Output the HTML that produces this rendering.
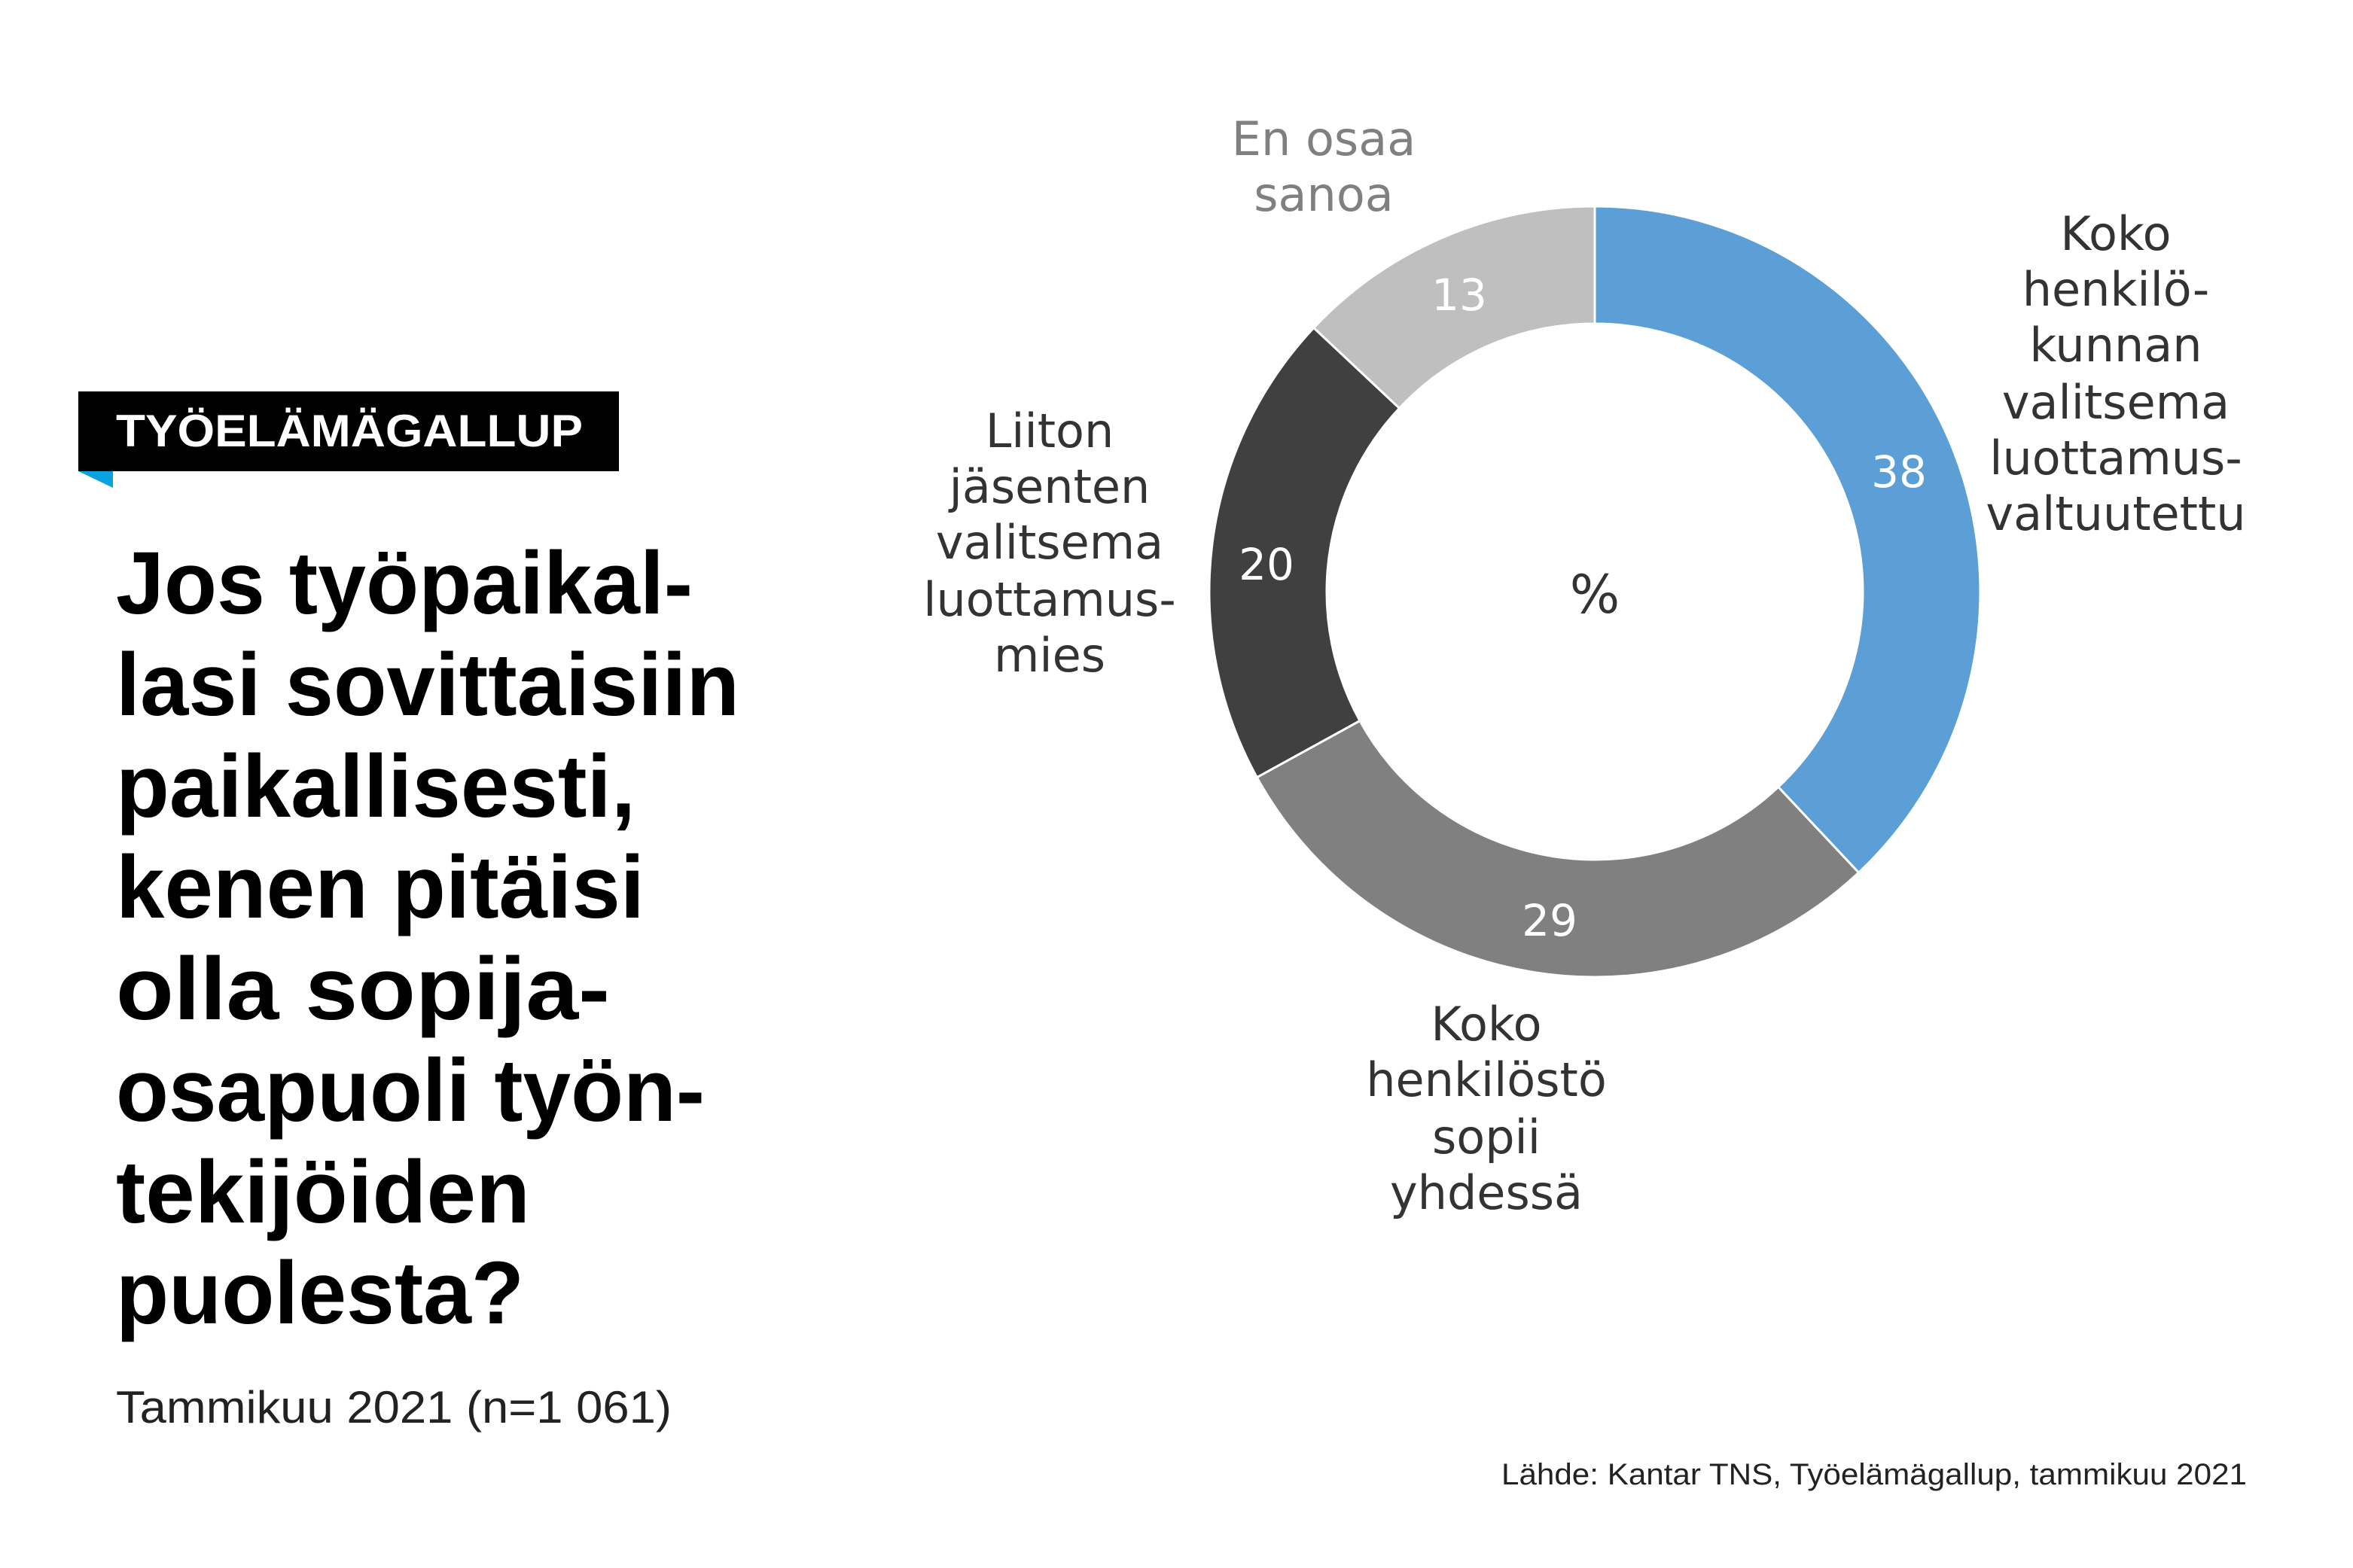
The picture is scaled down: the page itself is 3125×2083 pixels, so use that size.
<!DOCTYPE html>
<html><head><meta charset="utf-8"><style>html,body{margin:0;padding:0;background:#fff}svg{display:block}</style></head><body>
<svg width="3125" height="2083" viewBox="0 0 3125 2083" xmlns="http://www.w3.org/2000/svg">
<rect width="3125" height="2083" fill="#fff"/>
<rect x="104" y="520" width="718" height="106" fill="#000"/>
<polygon points="104,626 150,626 150,648" fill="#0aa3e0"/>
<text x="154" y="593" font-family="Liberation Sans, sans-serif" font-weight="bold" font-size="60" fill="#fff" textLength="620" lengthAdjust="spacingAndGlyphs">TYÖELÄMÄGALLUP</text>
<g font-family="Liberation Sans, sans-serif" font-weight="bold" font-size="118" fill="#000">
<text x="154" y="815" textLength="766" lengthAdjust="spacingAndGlyphs">Jos työpaikal-</text>
<text x="154" y="950" textLength="828" lengthAdjust="spacingAndGlyphs">lasi sovittaisiin</text>
<text x="154" y="1085" textLength="690" lengthAdjust="spacingAndGlyphs">paikallisesti,</text>
<text x="154" y="1219" textLength="702" lengthAdjust="spacingAndGlyphs">kenen pitäisi</text>
<text x="154" y="1354" textLength="656" lengthAdjust="spacingAndGlyphs">olla sopija-</text>
<text x="154" y="1489" textLength="782" lengthAdjust="spacingAndGlyphs">osapuoli työn-</text>
<text x="154" y="1624" textLength="550" lengthAdjust="spacingAndGlyphs">tekijöiden</text>
<text x="154" y="1758" textLength="542" lengthAdjust="spacingAndGlyphs">puolesta?</text>
</g>
<text x="154" y="1890" font-family="Liberation Sans, sans-serif" font-size="60" fill="#222" textLength="738" lengthAdjust="spacingAndGlyphs">Tammikuu 2021 (n=1 061)</text>
<text x="2984" y="1972" text-anchor="end" font-family="Liberation Sans, sans-serif" font-size="40" fill="#222" textLength="990" lengthAdjust="spacingAndGlyphs">Lähde: Kantar TNS, Työelämägallup, tammikuu 2021</text>
<g stroke="#fff" stroke-width="3">
<path d="M2118,274 A512,512 0 0 1 2468.5,1159.2 L2361.7,1045.5 A356,356 0 0 0 2118,430 Z" fill="#5b9fd6"/>
<path d="M2468.5,1159.2 A512,512 0 0 1 1669.3,1032.7 L1806,957.5 A356,356 0 0 0 2361.7,1045.5 Z" fill="#808080"/>
<path d="M1669.3,1032.7 A512,512 0 0 1 1744.8,435.5 L1858.5,542.3 A356,356 0 0 0 1806,957.5 Z" fill="#404040"/>
<path d="M1744.8,435.5 A512,512 0 0 1 2118,274 L2118,430 A356,356 0 0 0 1858.5,542.3 Z" fill="#bfbfbf"/>
</g>
<g font-family="DejaVu Sans, sans-serif" font-size="62" text-anchor="middle">
<text x="2522" y="647" fill="#fff" font-size="58">38</text>
<text x="2058" y="1243" fill="#fff" font-size="58">29</text>
<text x="1682" y="770" fill="#fff" font-size="58">20</text>
<text x="1938" y="412" fill="#fff" font-size="58">13</text>
<text x="2118" y="814" fill="#333" font-size="70">%</text>
<g fill="#808080"><text x="1758" y="206">En osaa</text><text x="1758" y="280">sanoa</text></g>
<g fill="#333">
<text x="2810" y="332">Koko</text><text x="2810" y="406">henkilö-</text><text x="2810" y="480">kunnan</text><text x="2810" y="556">valitsema</text><text x="2810" y="630">luottamus-</text><text x="2810" y="704">valtuutettu</text>
<text x="1394" y="594">Liiton</text><text x="1394" y="668">jäsenten</text><text x="1394" y="742">valitsema</text><text x="1394" y="818">luottamus-</text><text x="1394" y="892">mies</text>
<text x="1974" y="1382">Koko</text><text x="1974" y="1456">henkilöstö</text><text x="1974" y="1532">sopii</text><text x="1974" y="1606">yhdessä</text>
</g>
</g>
</svg>
</body></html>
